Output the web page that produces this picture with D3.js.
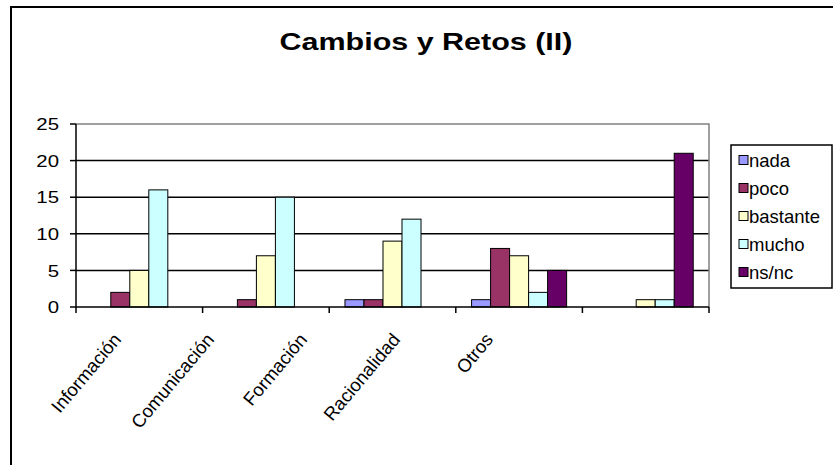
<!DOCTYPE html>
<html>
<head>
<meta charset="utf-8">
<script src="https://cdn.jsdelivr.net/npm/d3@7"></script>
<style>
  body { margin: 0; background: #fff; }
  text { font-family: "Liberation Sans", Arial, sans-serif; fill: #000; }
</style>
</head>
<body>
<script>
// data
const categories = ["Información", "Comunicación", "Formación", "Racionalidad", "Otros"];
const seriesNames = ["nada", "poco", "bastante", "mucho", "ns/nc"];
const nada     = [0, 0, 1, 1, 0];
const poco     = [2, 1, 1, 8, 0];
const bastante = [5, 7, 9, 7, 1];
const mucho    = [16, 15, 12, 2, 1];
const nsnc     = [0, 0, 0, 5, 21];
const yTicks = [0, 5, 10, 15, 20, 25];
const colors = ["#9999FF", "#993366", "#FFFFCC", "#CCFFFF", "#660066"];

const seriesValues = [nada, poco, bastante, mucho, nsnc];

const w = 833, h = 465;
const svg = d3.select("body").append("svg").attr("width", w).attr("height", h);

// outer frame (runs off right and bottom)
svg.append("rect").attr("x", 11).attr("y", 7).attr("width", 840).attr("height", 480)
  .attr("fill", "none").attr("stroke", "#000").attr("stroke-width", 2);

// title
svg.append("text").attr("transform", "translate(426,50) scale(1.27,1)")
  .attr("text-anchor", "middle").style("font-size", "24px").style("font-weight", "bold")
  .text("Cambios y Retos (II)");

const pLeft = 76, pRight = 709, pTop = 124, pBottom = 307;

const x = d3.scaleBand().domain(categories).range([pLeft, pRight]).padding(0);
const xs = d3.scaleBand().domain(seriesNames).range([0, x.bandwidth()])
  .paddingInner(0).paddingOuter(0.83);
const y = d3.scaleLinear().domain([0, 25]).range([pBottom, pTop]);

// gridlines
svg.append("g").selectAll("line").data(yTicks.filter(d => d > 0 && d < 25)).enter().append("line")
  .attr("x1", pLeft).attr("x2", pRight).attr("y1", d => y(d)).attr("y2", d => y(d))
  .attr("stroke", "#000").attr("stroke-width", 1.5);

// plot area border top/right (grey)
svg.append("path")
  .attr("d", `M${pLeft},${y(25)}H${pRight}V${pBottom}`)
  .attr("fill", "none").attr("stroke", "#808080").attr("stroke-width", 1.5);

// bars
const grp = svg.append("g").selectAll("g").data(categories).enter().append("g")
  .attr("transform", d => `translate(${x(d)},0)`);
grp.selectAll("rect")
  .data((c, i) => seriesNames.map((s, j) => ({ s, v: seriesValues[j][i], c: colors[j] })).filter(d => d.v > 0))
  .enter().append("rect")
  .attr("x", d => xs(d.s)).attr("width", xs.bandwidth())
  .attr("y", d => y(d.v)).attr("height", d => y(0) - y(d.v))
  .attr("fill", d => d.c).attr("stroke", "#000").attr("stroke-width", 1);

// y axis
svg.append("line").attr("x1", pLeft).attr("x2", pLeft).attr("y1", y(25)).attr("y2", pBottom)
  .attr("stroke", "#000").attr("stroke-width", 1.5);
const yt = svg.append("g").selectAll("g").data(yTicks).enter().append("g");
yt.append("line").attr("x1", pLeft - 6).attr("x2", pLeft).attr("y1", d => y(d)).attr("y2", d => y(d))
  .attr("stroke", "#000").attr("stroke-width", 1.5);
yt.append("text").attr("transform", d => `translate(59,${y(d)}) scale(1.2,1)`)
  .attr("text-anchor", "end").attr("dy", "0.36em").style("font-size", "17px").text(d => d);

// x axis
svg.append("line").attr("x1", pLeft).attr("x2", pRight).attr("y1", pBottom).attr("y2", pBottom)
  .attr("stroke", "#000").attr("stroke-width", 1.5);
const bounds = categories.map(c => x(c)).concat([pRight]);
svg.append("g").selectAll("line").data(bounds).enter().append("line")
  .attr("x1", d => d).attr("x2", d => d).attr("y1", pBottom).attr("y2", pBottom + 6)
  .attr("stroke", "#000").attr("stroke-width", 1.5);

// category labels (rotated, as placed in the picture)
const xl = d3.scalePoint().domain(categories).range([122, 494]);
svg.append("g").selectAll("text").data(categories).enter().append("text")
  .attr("transform", d => `translate(${xl(d)},340) rotate(-50)`)
  .attr("text-anchor", "end").style("font-size", "18.5px").text(d => d);

// legend
svg.append("rect").attr("x", 731).attr("y", 145).attr("width", 101).attr("height", 143)
  .attr("fill", "#fff").attr("stroke", "#000").attr("stroke-width", 1.5);
const ly = d3.scalePoint().domain(seriesNames).range([160, 272]);
const li = svg.append("g").selectAll("g").data(seriesNames).enter().append("g")
  .attr("transform", d => `translate(739,${ly(d)})`);
li.append("rect").attr("x", 0).attr("y", -4.5).attr("width", 9).attr("height", 9)
  .attr("fill", (d, i) => colors[i]).attr("stroke", "#000").attr("stroke-width", 1);
li.append("text").attr("x", 10).attr("dy", "0.36em").style("font-size", "18.5px").text(d => d);
</script>
</body>
</html>
